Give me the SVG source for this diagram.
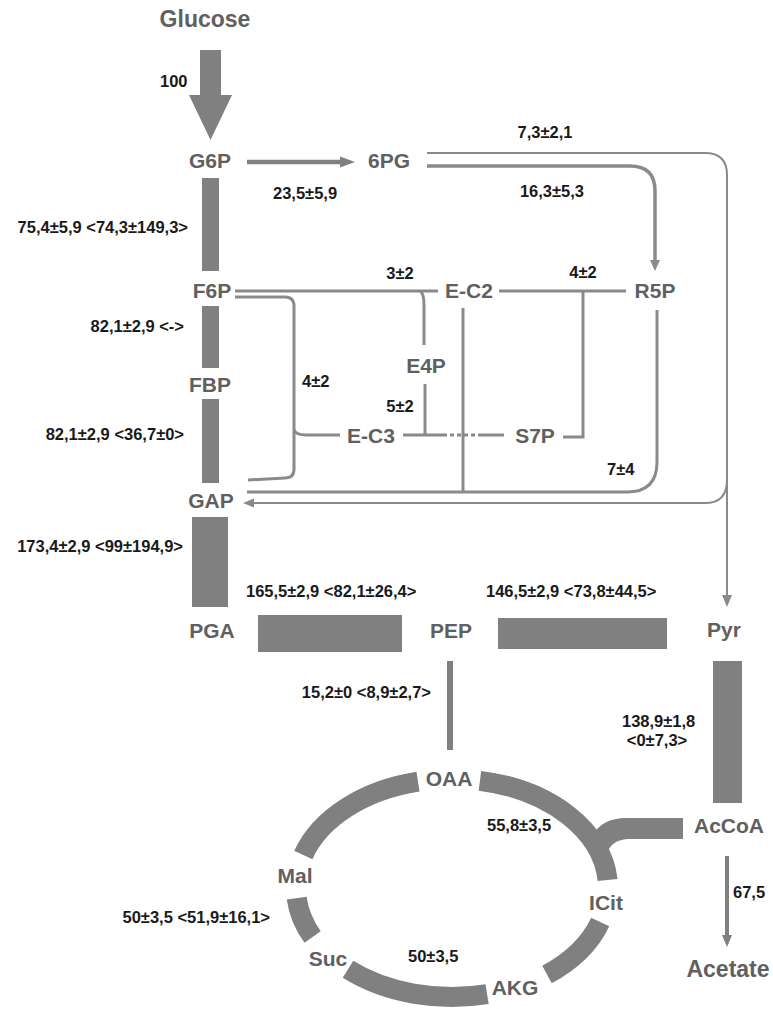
<svg xmlns="http://www.w3.org/2000/svg" width="773" height="1009" viewBox="0 0 773 1009">
<style>
.n{font-family:"Liberation Sans",Arial,sans-serif;font-weight:bold;font-size:21px;fill:#606060;text-anchor:middle}
.big{font-size:23px}
.l{font-family:"Liberation Sans",Arial,sans-serif;font-weight:bold;font-size:16.5px;fill:#1a1a1a}
.e{text-anchor:end}.m{text-anchor:middle}
.bar{fill:#808080}
.ln{fill:none;stroke:#8a8a8a;stroke-width:3}
.thin{fill:none;stroke:#8a8a8a;stroke-width:2}
.ring{fill:none;stroke:#808080;stroke-width:20}
.ah{fill:#8a8a8a}
</style>
<rect width="773" height="1009" fill="#ffffff"/>
<g id="connectors">
  <polygon class="bar" points="200,50 221,50 221,95 232,95 210.5,140 189,95 200,95"/>
  <line x1="247" y1="162" x2="342" y2="162" stroke="#808080" stroke-width="4.5"/>
  <polygon class="bar" points="340,156.5 355,162 340,167.5"/>
  <rect class="bar" x="202" y="178" width="17" height="93"/>
  <rect class="bar" x="202" y="306" width="17" height="62"/>
  <rect class="bar" x="202" y="399" width="17" height="84"/>
  <rect class="bar" x="192" y="517" width="36" height="90"/>
  <rect class="bar" x="258" y="615" width="144" height="37"/>
  <rect class="bar" x="498" y="618" width="169" height="31"/>
  <rect class="bar" x="713" y="661" width="29" height="142"/>
  <rect class="bar" x="447" y="661" width="6" height="89"/>
  <path class="thin" d="M427,153 L705,153 Q727,153 727,175 L727,597"/>
  <polygon class="ah" points="722,595 732,595 727,607"/>
  <path class="ln" style="stroke-width:3.5" d="M427,166 L630,166 Q655,166 655,191 L655,262"/>
  <polygon class="ah" points="650,260 660,260 655,271"/>
  <path class="ln" d="M235,291 L438,291"/>
  <path class="ln" d="M420,291 Q424,293 424,305 L424,345"/>
  <path class="ln" d="M425,384 L425,435"/>
  <path class="ln" d="M403,435 L443,435"/>
  <path class="ln" style="stroke-dasharray:4 3" d="M443,435 L482,435"/>
  <path class="ln" d="M482,435 L504,435"/>
  <path class="ln" d="M563,437 L583,437 L583,291"/>
  <path class="ln" d="M499,291 L626,291"/>
  <path class="ln" d="M463,308 L463,492"/>
  <path class="ln" d="M657,310 L657,462 Q657,492 627,492 L247,492"/>
  <path class="thin" d="M727,480 Q727,503 705,503 L252,503"/>
  <polygon class="ah" points="243,503 254,498.5 254,507.5"/>
  <path class="ln" d="M235,297 L285,297 Q294,297 294,306 L294,469 Q294,478 285,478 L248,480"/>
  <path class="ln" d="M294,430 Q296,435 306,435 L340,435"/>
  <path class="ring" d="M303.3,855 A156,109 0 0 1 418,781.6"/>
  <path class="ring" d="M479.9,780.8 A156,109 0 0 1 607.6,880"/>
  <path class="ring" d="M600.2,922 A156,109 0 0 1 547,974.5"/>
  <path class="ring" d="M487.1,994.2 A156,109 0 0 1 348,969.3"/>
  <path class="ring" d="M312.6,937 A156,109 0 0 1 296.7,898.1"/>
  <path class="bar" d="M683,818 L626,818 Q602,818 592,836 L606,856 Q610,840 628,839 L683,839 Z"/>
  <line x1="727" y1="856" x2="727" y2="936" stroke="#808080" stroke-width="4"/>
  <polygon class="bar" points="722,935 732,935 727,947"/>
</g>
<g id="labels">
  <text class="l" x="160" y="87">100</text>
  <text class="l" x="273" y="199">23,5±5,9</text>
  <text class="l m" x="545" y="138">7,3±2,1</text>
  <text class="l m" x="552" y="197">16,3±5,3</text>
  <text class="l e" x="188" y="233">75,4±5,9 &lt;74,3±149,3&gt;</text>
  <text class="l e" x="184" y="332">82,1±2,9 &lt;-&gt;</text>
  <text class="l e" x="184" y="440">82,1±2,9 &lt;36,7±0&gt;</text>
  <text class="l" x="302" y="387">4±2</text>
  <text class="l m" x="400" y="279">3±2</text>
  <text class="l m" x="583" y="278">4±2</text>
  <text class="l m" x="400" y="412">5±2</text>
  <text class="l" x="607" y="475">7±4</text>
  <text class="l e" x="183" y="552">173,4±2,9 &lt;99±194,9&gt;</text>
  <text class="l" x="246" y="597">165,5±2,9 &lt;82,1±26,4&gt;</text>
  <text class="l" x="486" y="597">146,5±2,9 &lt;73,8±44,5&gt;</text>
  <text class="l e" x="431" y="698">15,2±0 &lt;8,9±2,7&gt;</text>
  <text class="l" x="622" y="727">138,9±1,8</text>
  <text class="l m" x="657" y="746">&lt;0±7,3&gt;</text>
  <text class="l" x="487" y="831">55,8±3,5</text>
  <text class="l" x="733" y="898">67,5</text>
  <text class="l" x="408" y="962">50±3,5</text>
  <text class="l e" x="270" y="923">50±3,5 &lt;51,9±16,1&gt;</text>
</g>
<g id="glucose"><text class="n big" x="205" y="27">Glucose</text></g>
<g id="g6p"><text class="n" x="210" y="168">G6P</text></g>
<g id="6pg"><text class="n" x="389" y="168">6PG</text></g>
<g id="f6p"><text class="n" x="212" y="298">F6P</text></g>
<g id="fbp"><text class="n" x="210" y="392">FBP</text></g>
<g id="gap"><text class="n" x="211" y="508">GAP</text></g>
<g id="ec2"><text class="n" x="469" y="298">E-C2</text></g>
<g id="r5p"><text class="n" x="655" y="298">R5P</text></g>
<g id="e4p"><text class="n" x="426" y="373">E4P</text></g>
<g id="ec3"><text class="n" x="371" y="443">E-C3</text></g>
<g id="s7p"><text class="n" x="535" y="443">S7P</text></g>
<g id="pga"><text class="n" x="212" y="638">PGA</text></g>
<g id="pep"><text class="n" x="451" y="638">PEP</text></g>
<g id="pyr"><text class="n" x="724" y="637">Pyr</text></g>
<g id="oaa"><text class="n" x="449" y="786">OAA</text></g>
<g id="acoa"><text class="n" x="729" y="833">AcCoA</text></g>
<g id="mal"><text class="n" x="295" y="883">Mal</text></g>
<g id="icit"><text class="n" x="606" y="910">ICit</text></g>
<g id="suc"><text class="n" x="328" y="966">Suc</text></g>
<g id="akg"><text class="n" x="515" y="995">AKG</text></g>
<g id="acetate"><text class="n big" x="728" y="977">Acetate</text></g>
</svg>
